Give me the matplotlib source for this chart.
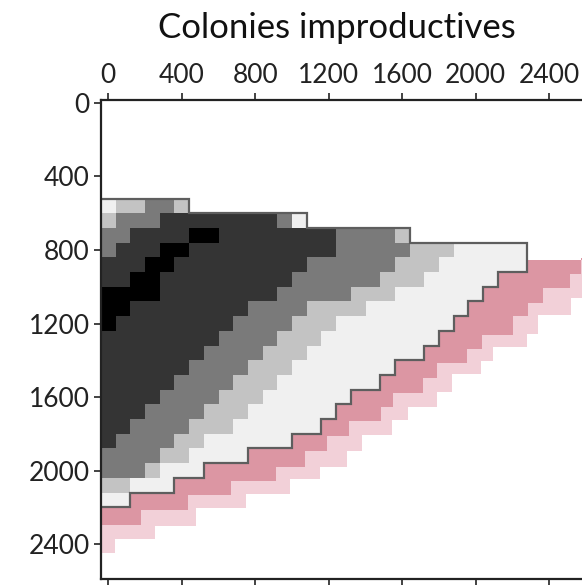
import matplotlib.pyplot as plt
import numpy as np
from matplotlib.colors import ListedColormap, BoundaryNorm

plt.rcParams['font.family'] = ['Lato', 'DejaVu Sans']

CELL = 80        # model grid step (same in x and y)
FIRST_ROW = 7    # row index of the first string below (row centre = index * CELL)

# One string per grid row, one character per column starting at x = 0.
# 1 = very light, 2 = light, 3 = mid grey, 4 = dark grey, 5 = black
GRID_ROWS = [
    "122332",
    "23334444444431",
    "334444554444444433332",
    "34445544444444443333322211111",
    "44455444444444333333222111111",
    "445544444444433333322211111",
    "55554444444433333222111111",
    "5544444444333322221111111",
    "544444444333322211111111",
    "44444444333322211111111",
    "4444444333322211111111",
    "44444433332221111111",
    "4444433332221111111",
    "44443333222111111",
    "4443333222111111",
    "443333222111111",
    "4333322111111",
    "3333221111",
    "3332111",
    "22111",
    "11",
]
LEVEL_COLOURS = ['#f0f0f0', '#c3c3c3', '#7a7a7a', '#343434', '#000000']

# Pink bands: x where the lower edge steps up, y of each flat part (left to right)
DARK_PINK_STEPS = [180, 435, 669, 914, 1072, 1192, 1312, 1486, 1551, 1714,
                   1790, 1954, 2035, 2204, 2286, 2367, 2514, 2574]
DARK_PINK_LEVELS = [2297, 2215, 2133, 2057, 1981, 1894, 1812, 1731, 1654, 1578,
                    1497, 1415, 1339, 1263, 1159, 1088, 1007, 931, 844]
LIGHT_PINK_STEPS = [38, 256, 479, 751, 990, 1154, 1301, 1382, 1546, 1633,
                    1790, 1872, 2030, 2095, 2280, 2340, 2520]
LIGHT_PINK_LEVELS = [2449, 2373, 2302, 2204, 2128, 2046, 1981, 1894, 1807, 1725,
                     1654, 1573, 1475, 1404, 1328, 1257, 1154, 1060]
PINK_TOP_Y = 855  # top edge of the pink bands (mostly hidden behind the grey)

X_TICKS = [0, 400, 800, 1200, 1600, 2000, 2400]
Y_TICKS = [0, 400, 800, 1200, 1600, 2000, 2400]
XLIM = (-40, 2600)
YLIM = (2590, -16)


def stair(steps, levels, x0, x1):
    """Lower edge of a band as a staircase from x0 to x1."""
    xs, ys = [x0], [levels[0]]
    for s, a, b in zip(steps, levels[:-1], levels[1:]):
        xs += [s, s]
        ys += [a, b]
    xs.append(x1)
    ys.append(levels[-1])
    return xs, ys


fig = plt.figure(figsize=(5.82, 5.85), dpi=100)
ax = fig.add_axes([101 / 582, 6 / 585, 485 / 582, 479 / 585])

# Pink bands under the grey area
for steps, levels, colour, z in [(LIGHT_PINK_STEPS, LIGHT_PINK_LEVELS, '#f2d0d8', 1),
                                 (DARK_PINK_STEPS, DARK_PINK_LEVELS, '#dc96a3', 2)]:
    xs, ys = stair(steps, levels, XLIM[0], 2700)
    xs += [2700, XLIM[0]]
    ys += [PINK_TOP_Y, PINK_TOP_Y]
    ax.fill(xs, ys, color=colour, lw=0, zorder=z)

# Grey grid
n_rows = len(GRID_ROWS)
n_cols = max(len(r) for r in GRID_ROWS)
values = np.full((n_rows, n_cols), np.nan)
for i, row in enumerate(GRID_ROWS):
    for j, ch in enumerate(row):
        values[i, j] = int(ch)
x_edges = (np.arange(n_cols + 1) - 0.5) * CELL
y_edges = (np.arange(n_rows + 1) + FIRST_ROW - 0.5) * CELL
cmap = ListedColormap(LEVEL_COLOURS)
norm = BoundaryNorm([0.5, 1.5, 2.5, 3.5, 4.5, 5.5], cmap.N)
ax.pcolormesh(x_edges, y_edges, np.ma.masked_invalid(values), cmap=cmap, norm=norm,
              zorder=3, edgecolors='none', antialiased=False)

# Outline of the grey area
ox = [x_edges[0]]
oy = [y_edges[0]]
for i, row in enumerate(GRID_ROWS):
    xr = x_edges[len(row)]
    ox += [xr, xr]
    oy += [y_edges[i], y_edges[i + 1]]
ox.append(x_edges[0])
oy.append(y_edges[-1])
ax.plot(ox, oy, color='#5e5e5e', lw=1.6, zorder=4, solid_joinstyle='miter')

ax.set_xlim(*XLIM)
ax.set_ylim(*YLIM)
ax.set_xticks(X_TICKS)
ax.set_yticks(Y_TICKS)
ax.tick_params(axis='x', top=True, bottom=True, labeltop=True, labelbottom=False,
               direction='out', length=5, width=1.2, pad=4, labelsize=19, colors='#222222')
ax.tick_params(axis='y', left=True, right=False, direction='out', length=5, width=1.2,
               pad=3, labelsize=19, colors='#222222')
for side in ['top', 'bottom', 'left', 'right']:
    ax.spines[side].set_linewidth(1.6)
    ax.spines[side].set_color('#222222')
    ax.spines[side].set_zorder(5)

fig.text(337 / 582, 1 - 28 / 585, 'Colonies improductives', ha='center', va='center',
         fontsize=25, color='#111111')

fig.savefig('out.png', dpi=100)
